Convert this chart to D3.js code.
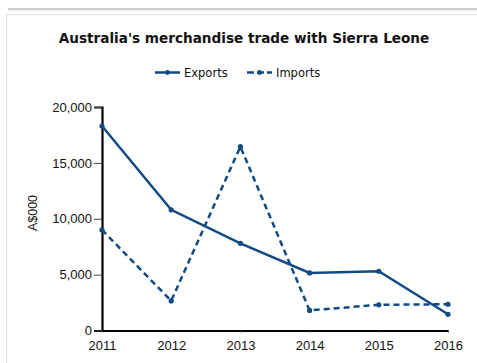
<!DOCTYPE html>
<html>
<head>
<meta charset="utf-8">
<script src="https://cdn.jsdelivr.net/npm/d3@7"></script>
<style>
  html, body { margin: 0; padding: 0; background: #fff; }
  svg { display: block; }
  .tick text, .axis-title { font-family: "Liberation Sans", Arial, sans-serif; }
</style>
</head>
<body>
<script>
// Australia's merchandise trade with Sierra Leone, A$000
const years = ["2011", "2012", "2013", "2014", "2015", "2016"];
const exportsValues = [18300, 10800, 7800, 5150, 5300, 1450];
const importsValues = [9000, 2650, 16450, 1800, 2300, 2350];
const yTicks = [0, 5000, 10000, 15000, 20000];

const W = 477, H = 363;
const lineColor = "#114a84";
const sansNarrow = "'Liberation Sans', Arial, sans-serif";
const sansWide = "'DejaVu Sans', Verdana, sans-serif";

const svg = d3.select("body").append("svg")
  .attr("width", W).attr("height", H);

// panel frame
svg.append("rect").attr("x", 8).attr("y", 8).attr("width", W - 8).attr("height", 2.5).attr("fill", "#cfcfcf");
svg.append("rect").attr("x", 6).attr("y", 14).attr("width", W - 6).attr("height", 1.2).attr("fill", "#e2e2e2");
svg.append("rect").attr("x", 6).attr("y", 14).attr("width", 1.2).attr("height", H - 14).attr("fill", "#e2e2e2");

// title
svg.append("text")
  .attr("x", 244).attr("y", 43)
  .attr("text-anchor", "middle")
  .style("font-family", sansWide)
  .style("font-weight", "bold")
  .style("font-size", "13.6px")
  .attr("fill", "#111")
  .text("Australia's merchandise trade with Sierra Leone");

const x = d3.scalePoint().domain(years).range([102, 448]);
const y = d3.scaleLinear().domain([0, 20000]).range([330.5, 107]);

// axes
const yAxis = svg.append("g")
  .attr("transform", "translate(102,0)")
  .call(d3.axisLeft(y).tickValues(yTicks).tickSize(8).tickPadding(2).tickFormat(d3.format(",")));
yAxis.attr("font-family", null);
yAxis.select(".domain").attr("stroke", "#000").attr("stroke-width", 2.2);
yAxis.selectAll(".tick line").attr("stroke", "#444").attr("stroke-width", 1);
yAxis.selectAll("text").style("font-family", sansNarrow).style("font-size", "13px").attr("fill", "#111");

const xAxis = svg.append("g")
  .attr("transform", "translate(0,330.5)")
  .call(d3.axisBottom(x).tickSize(2).tickPadding(8).tickSizeOuter(0));
xAxis.attr("font-family", null);
xAxis.select(".domain").attr("stroke", "#000").attr("stroke-width", 2.2);
xAxis.selectAll(".tick line").attr("stroke", "#444");
xAxis.selectAll("text").style("font-family", sansNarrow).style("font-size", "13px").attr("fill", "#111");

// y-axis title
svg.append("text")
  .attr("class", "axis-title")
  .attr("transform", "translate(37,213) rotate(-90)")
  .attr("text-anchor", "middle")
  .style("font-family", sansNarrow)
  .style("font-size", "12.5px")
  .attr("fill", "#111")
  .text("A$000");

const line = d3.line().x((d, i) => x(years[i])).y(d => y(d));

const series = [
  { name: "Exports", values: exportsValues, dash: null },
  { name: "Imports", values: importsValues, dash: "6,4" }
];

series.forEach(s => {
  svg.append("path")
    .datum(s.values)
    .attr("d", line)
    .attr("fill", "none")
    .attr("stroke", lineColor)
    .attr("stroke-width", 2.5)
    .attr("stroke-dasharray", s.dash);
  svg.selectAll(null)
    .data(s.values)
    .enter().append("circle")
    .attr("cx", (d, i) => x(years[i]))
    .attr("cy", d => y(d))
    .attr("r", 2.6)
    .attr("fill", lineColor);
});

// legend
const legend = [
  { name: "Exports", x0: 155, dash: null },
  { name: "Imports", x0: 247, dash: "7,3" }
];
legend.forEach(l => {
  svg.append("line")
    .attr("x1", l.x0).attr("x2", l.x0 + 25)
    .attr("y1", 72.5).attr("y2", 72.5)
    .attr("stroke", lineColor).attr("stroke-width", 2.5)
    .attr("stroke-dasharray", l.dash);
  svg.append("circle").attr("cx", l.x0 + 12.5).attr("cy", 72.5).attr("r", 2.4).attr("fill", lineColor);
  svg.append("text")
    .attr("x", l.x0 + 29).attr("y", 77)
    .style("font-family", sansWide)
    .style("font-size", "11.5px")
    .attr("fill", "#111")
    .text(l.name);
});
</script>
</body>
</html>
